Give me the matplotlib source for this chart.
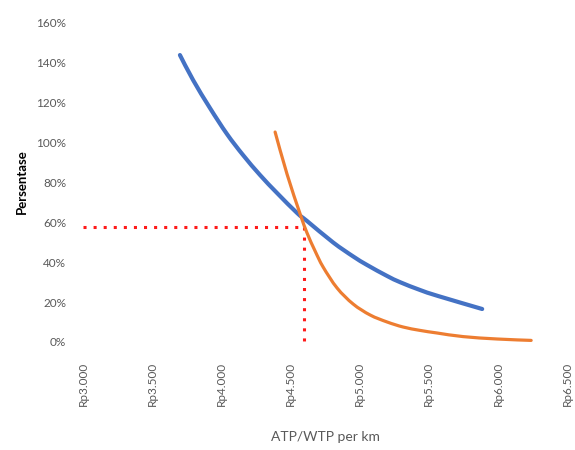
import matplotlib
matplotlib.use("Agg")
import matplotlib.pyplot as plt
from matplotlib.path import Path
from matplotlib.patches import PathPatch
from matplotlib.ticker import FuncFormatter

# ATP curve (blue)
atp_x = [3701, 3796, 3918, 4041, 4157, 4280, 4403, 4548, 4620, 4808, 4953, 5054,
         5199, 5293, 5437, 5567, 5886]
atp_y = [143.5, 131, 117, 104, 93.5, 83.5, 74.5, 64.5, 60.5, 49.8, 42.8, 38.5,
         33, 29.9, 26, 23, 16.5]

# WTP curve (orange)
wtp_x = [4389, 4475, 4570, 4620, 4678, 4736, 4837, 4953, 5076, 5199, 5314, 5437,
         5560, 5748, 5994, 6240]
wtp_y = [105, 84, 64, 54.5, 45.5, 37.5, 27, 19, 13.5, 10, 7.5, 5.8,
         4.5, 2.7, 1.5, 0.8]

# intersection guide
cross_x = 4595
cross_y = 57.5

x_ticks = [3000, 3500, 4000, 4500, 5000, 5500, 6000, 6500]
y_ticks = [0, 20, 40, 60, 80, 100, 120, 140, 160]


def smooth_path(xs, ys):
    # Excel-style smoothed line: cubic Bezier through the points
    pts = list(zip(xs, ys))
    verts = [pts[0]]
    codes = [Path.MOVETO]
    n = len(pts)
    for i in range(n - 1):
        p0 = pts[i - 1] if i > 0 else pts[i]
        p1 = pts[i]
        p2 = pts[i + 1]
        p3 = pts[i + 2] if i + 2 < n else pts[i + 1]
        c1 = (p1[0] + (p2[0] - p0[0]) / 6, p1[1] + (p2[1] - p0[1]) / 6)
        c2 = (p2[0] - (p3[0] - p1[0]) / 6, p2[1] - (p3[1] - p1[1]) / 6)
        verts += [c1, c2, p2]
        codes += [Path.CURVE4] * 3
    return Path(verts, codes)


plt.rcParams["font.family"] = ["Lato", "DejaVu Sans"]
grey = "#595959"

fig = plt.figure(figsize=(5.75, 4.5), dpi=100)
ax = fig.add_axes([0.1443, 0.24, 0.842, 0.711])

ax.plot([x_ticks[0], cross_x], [cross_y, cross_y], color="#FF1A1A", lw=2.2,
        linestyle=(0, (1, 2.3)), dash_capstyle="butt", zorder=1)
ax.plot([cross_x, cross_x], [cross_y, 0], color="#FF1A1A", lw=2.2,
        linestyle=(0, (1, 2.3)), dash_capstyle="butt", zorder=1)

ax.add_patch(PathPatch(smooth_path(atp_x, atp_y), fill=False, edgecolor="#4472C4",
                       lw=3, capstyle="round", zorder=2))
ax.add_patch(PathPatch(smooth_path(wtp_x, wtp_y), fill=False, edgecolor="#ED7D31",
                       lw=2.3, capstyle="round", zorder=3))

ax.set_xlim(x_ticks[0], x_ticks[-1])
ax.set_ylim(y_ticks[0], y_ticks[-1])
ax.set_xticks(x_ticks)
ax.set_yticks(y_ticks)
ax.xaxis.set_major_formatter(FuncFormatter(lambda v, p: "Rp" + f"{int(v):,}".replace(",", ".")))
ax.yaxis.set_major_formatter(FuncFormatter(lambda v, p: f"{int(v)}%"))
ax.tick_params(axis="both", length=0, labelsize=8.5, labelcolor=grey)
ax.tick_params(axis="x", rotation=90, pad=14)
ax.tick_params(axis="y", pad=12)

for s in ax.spines.values():
    s.set_visible(False)

ax.set_ylabel("Persentase", fontsize=9.5, fontweight="bold", color="black", labelpad=6)
ax.set_xlabel("ATP/WTP per km", fontsize=10, color=grey, labelpad=18)

fig.savefig("out.png", dpi=100)
